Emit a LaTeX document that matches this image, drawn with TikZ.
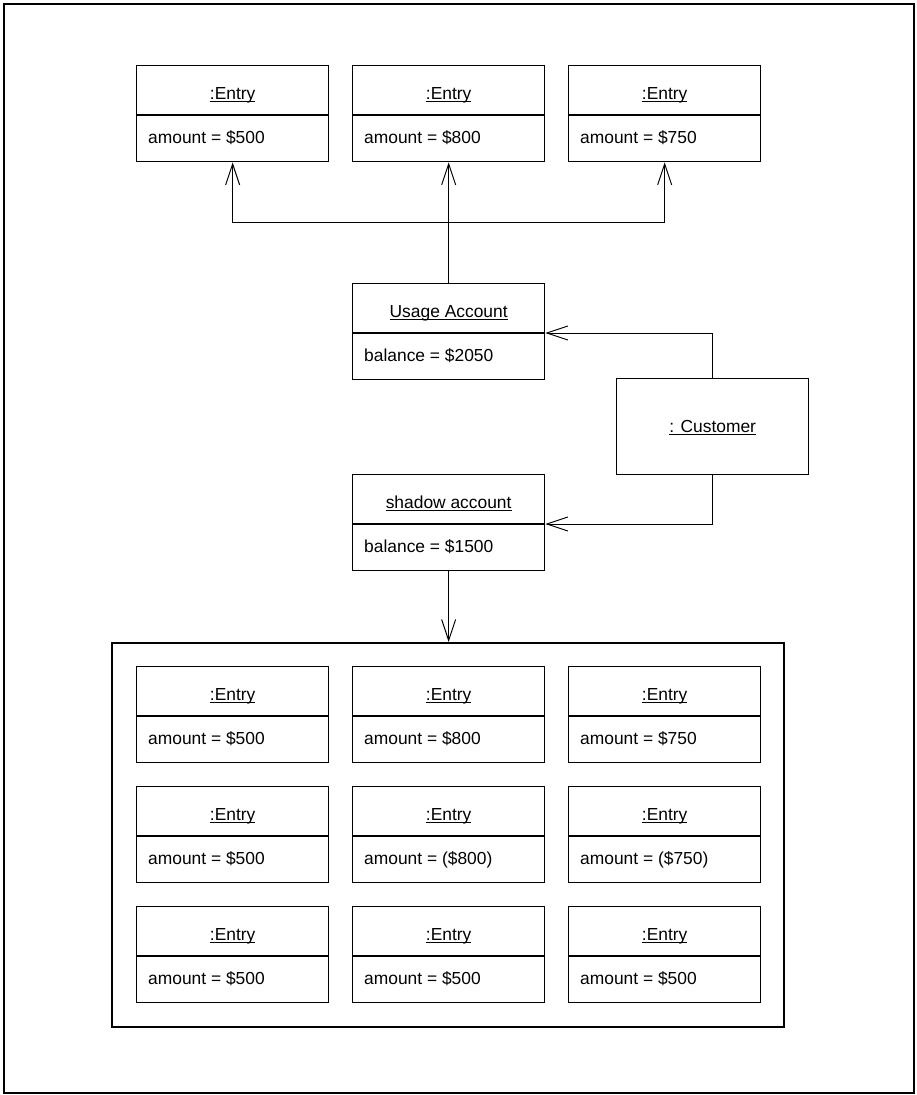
\documentclass[tikz,border=0pt]{standalone}
\usepackage{fontspec}
\setmainfont{Liberation Sans}
\usetikzlibrary{arrows.meta}
\newcommand\umlu[1]{\setbox0\hbox{#1}\rlap{\rule[-2.6pt]{\wd0}{1.1pt}}\box0}
\tikzset{
  obox/.style={draw=black, line width=1.3pt, minimum width=192pt, minimum height=96pt, inner sep=0pt, anchor=north west},
  ttl/.style={inner sep=0pt, anchor=base},
  attr/.style={inner sep=0pt, anchor=base west},
  conn/.style={draw=black, line width=1pt},
  barb/.tip={Straight Barb[length=21pt,width=14pt,line width=1pt]},
  cont/.style={draw=black, line width=1.6pt, minimum width=672pt, minimum height=384pt, inner sep=0pt, anchor=north west},
}
\newcommand\objbox[5]{%
  \node[obox] (#1) at (#2,#3) {};
  \path (#1.north west) ++(0,50) coordinate (#1-sw);
  \path (#1.north east) ++(0,50) coordinate (#1-se);
  \draw[line width=1.3pt] (#1-sw) -- (#1-se);
  \path (#1.north) ++(0,34) node[ttl] (#1-t) {\umlu{#4}};
  \path (#1-sw) ++(12,28) node[attr] (#1-a) {#5};
}
\begin{document}
\begin{tikzpicture}[x=1pt, y=-1pt, font=\fontsize{17.4}{20}\selectfont]
\useasboundingbox (0,0) rectangle (916,1095);
\draw[line width=2pt] (4,4) rectangle (914,1093);
% top entries
\objbox{e1}{136}{65}{:Entry}{amount = \$500}
\objbox{e2}{352}{65}{:Entry}{amount = \$800}
\objbox{e3}{568}{65}{:Entry}{amount = \$750}
% accounts
\objbox{u}{352}{283}{Usage Account}{balance = \$2050}
\objbox{s}{352}{474}{shadow account}{balance = \$1500}
% customer
\node[obox] (c) at (616,378) {};
\path (c.center) ++(0,6) node[ttl] (c-t) {\umlu{: Customer}};
% container
\node[cont] (k) at (111,642) {};
\objbox{a1}{136}{666}{:Entry}{amount = \$500}
\objbox{a2}{352}{666}{:Entry}{amount = \$800}
\objbox{a3}{568}{666}{:Entry}{amount = \$750}
\objbox{b1}{136}{786}{:Entry}{amount = \$500}
\objbox{b2}{352}{786}{:Entry}{amount = (\$800)}
\objbox{b3}{568}{786}{:Entry}{amount = (\$750)}
\objbox{d1}{136}{906}{:Entry}{amount = \$500}
\objbox{d2}{352}{906}{:Entry}{amount = \$500}
\objbox{d3}{568}{906}{:Entry}{amount = \$500}
% connectors
\coordinate (j) at (448,222);
\draw[conn,-barb] (u.north) -- (e2.south);
\draw[conn,-barb] (j) -| (e1.south);
\draw[conn,-barb] (j) -| (e3.south);
\draw[conn,-barb] (c.north) |- (u-se);
\draw[conn,-barb] (c.south) |- (s-se);
\draw[conn,-barb] (s.south) -- (s.south |- k.north);
\end{tikzpicture}
\end{document}
